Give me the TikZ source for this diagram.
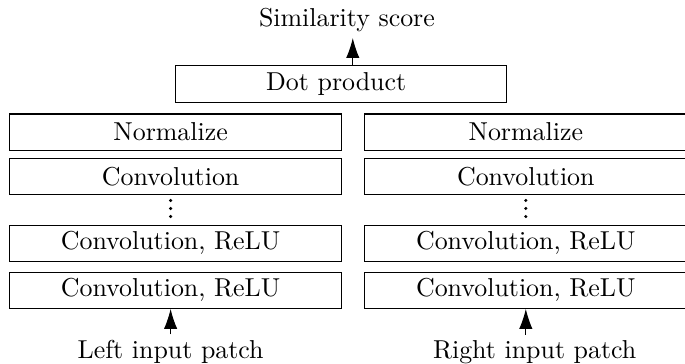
\documentclass[tikz,border=0pt]{standalone}
\usepackage{amsmath}
\usepackage{amssymb}
\usepackage{tikz}
\usetikzlibrary{calc,positioning,arrows.meta}

\begin{document}
\begin{tikzpicture}[
                layer/.style={draw,minimum width=4.5cm,minimum height=0.49cm,inner sep=0pt,execute at end node={\hspace{1.3mm}}},
                tag/.style={inner sep=2pt},
                arr/.style={-{Latex[length=2.7mm,width=1.8mm]}}
            ]
                \useasboundingbox (0,0) rectangle (9.295,-4.939);
                \node [layer] (dot) at (4.627,-1.14) {Dot product};
                \node [tag,anchor=base] (score) at (4.708,-0.366) {Similarity score};
                \coordinate (out) at ([xshift=1.6mm]dot.north);
                \draw [arr] (out) -- (out |- score.south);
                \foreach \s/\x/\lbl/\dx in {l/2.38/Left/0mm,r/7.2/Right/1.2mm} {
                    \node [layer] (\s-norm) at (\x,-1.792) {Normalize};
                    \node [layer,below=1mm of \s-norm] (\s-conv) {Convolution};
                    \node [layer,below=4mm of \s-conv] (\s-relu) {Convolution, ReLU};
                    \node [layer,below=1.35mm of \s-relu] (\s-first) {Convolution, ReLU};
                    % vertical dots between the layers
                    \coordinate (\s-dots) at ([xshift=-0.65mm,yshift=1.1mm]\s-relu.north);
                    \foreach \k in {0,1,2} {
                        \fill ([yshift=\k*3.1pt]\s-dots) circle (0.65pt);
                    }
                    \coordinate (\s-in) at ([xshift=-0.65mm]\s-first.south);
                    \node [tag,anchor=base] (\s-patch) at ([xshift=\dx]\s-in |- 0,-4.862) {\lbl{} input patch};
                    \draw [arr] (\s-patch.north -| \s-in) -- (\s-in);
                }
            \end{tikzpicture}
\end{document}
